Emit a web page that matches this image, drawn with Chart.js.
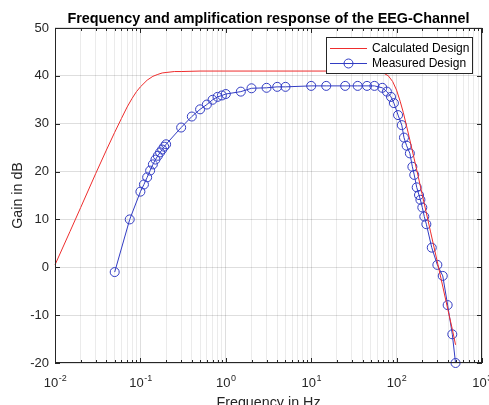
<!DOCTYPE html>
<html><head><meta charset="utf-8">
<script src="https://cdn.jsdelivr.net/npm/chart.js@4"></script>
<style>html,body{margin:0;padding:0;background:#fff;}#wrap{width:489px;height:405px;}</style>
</head><body><div id="wrap"><canvas id="c" width="489" height="405"></canvas></div>
<script>
const chartTitle = 'Frequency and amplification response of the EEG-Channel';
const xAxisTitle = 'Frequency in Hz';
const yAxisTitle = 'Gain in dB';
const calcLabel = 'Calculated Design';
const measLabel = 'Measured Design';

const calcFreq = [0.01,0.015,0.02,0.03,0.04,0.05,0.06,0.07,0.08,0.09,0.1,0.12,0.14,0.16,0.18,0.2,0.25,0.3,0.5,1,10,40,50,60,70,80,90,100,110,120,140,160,180,200,250,300,350,400,450,490];
const calcGain = [0.5,7.5,12.5,19.6,24.5,28.2,31.1,33.5,35.3,36.7,37.7,39.1,39.9,40.3,40.6,40.7,40.9,40.9,41,41,41,41,41,40.9,40.6,40.0,38.8,37.0,34.7,32.3,27.3,22.8,18.8,15.1,7.4,1.1,-4.3,-9.0,-13.0,-16.2];

const measFreq = [0.05,0.075,0.1,0.11,0.12,0.13,0.14,0.15,0.16,0.17,0.18,0.19,0.2,0.3,0.4,0.5,0.6,0.7,0.8,0.9,1,1.5,2,3,4,5,10,15,25,35,45,55,68,77,86,93,104,115,122,131,143,153,161,172,183,190,200,211,223,258,300,347,396,449,490];
const measGain = [-1.0,10.0,15.8,17.3,18.8,20.2,21.5,22.5,23.3,24.0,24.6,25.2,25.7,29.2,31.5,33.0,34.0,35.0,35.6,35.9,36.2,36.7,37.4,37.5,37.7,37.7,37.9,37.9,37.9,37.9,37.9,37.9,37.5,36.7,35.6,34.3,31.8,29.7,27.1,25.4,23.8,21.0,19.3,16.7,15.1,14.1,12.5,10.6,9.0,4.1,0.5,-1.8,-7.9,-14.0,-20.0];

const xTickValues = [0.01,0.1,1,10,100,1000];
const xTickBase = '10';
const xTickExponents = ['-2','-1','0','1','2','3'];
const yTickValues = [-20,-10,0,10,20,30,40,50];
const xMinorMultipliers = [2,3,4,5,6,7,8,9];

const FONT = "'Liberation Sans', Arial, Helvetica, sans-serif";
const AXIS_COLOR = '#262626';
const RED = 'rgb(238,45,45)';
const BLUE = 'rgb(50,60,195)';

function isMajorX(v){ return xTickValues.some(t => Math.abs(t - v) / t < 1e-6); }

const xGridValues = [];
xTickValues.forEach((d, i) => {
  xGridValues.push(d);
  if (i < xTickValues.length - 1) xMinorMultipliers.forEach(m => xGridValues.push(+(d * m).toPrecision(6)));
});

const boxPlugin = {
  id: 'matlabBox',
  afterDatasetsDraw(chart) {
    const {ctx, chartArea: a, scales: {x, y}} = chart;
    ctx.save();
    ctx.strokeStyle = AXIS_COLOR;
    ctx.lineWidth = 1;
    ctx.beginPath();
    x.ticks.forEach(t => {
      const px = Math.round(x.getPixelForValue(t.value)) + 0.5;
      const len = isMajorX(t.value) ? 5 : 3;
      ctx.moveTo(px, a.bottom); ctx.lineTo(px, a.bottom - len);
      ctx.moveTo(px, a.top); ctx.lineTo(px, a.top + len);
    });
    y.ticks.forEach(t => {
      const py = Math.round(y.getPixelForValue(t.value)) + 0.5;
      ctx.moveTo(a.left, py); ctx.lineTo(a.left + 5, py);
      ctx.moveTo(a.right, py); ctx.lineTo(a.right - 5, py);
    });
    ctx.stroke();
    ctx.strokeRect(Math.round(a.left) + 0.5, Math.round(a.top) + 0.5, Math.round(a.right - a.left) - 1, Math.round(a.bottom - a.top) - 1);

    // x tick labels: base "10" with raised exponent
    ctx.fillStyle = AXIS_COLOR;
    ctx.textBaseline = 'alphabetic';
    ctx.textAlign = 'left';
    xTickValues.forEach((v, i) => {
      const px = x.getPixelForValue(v);
      ctx.font = '13px ' + FONT;
      const w1 = ctx.measureText(xTickBase).width;
      ctx.font = '9px ' + FONT;
      const w2 = ctx.measureText(xTickExponents[i]).width;
      const x0 = px - (w1 + w2) / 2;
      ctx.font = '13px ' + FONT;
      ctx.fillText(xTickBase, x0, a.bottom + 24);
      ctx.font = '9px ' + FONT;
      ctx.fillText(xTickExponents[i], x0 + w1 + 0.5, a.bottom + 18);
    });
    ctx.restore();
  },
  afterDraw(chart) {
    const {ctx} = chart;
    const ds = chart.data.datasets;
    const bx = 326.5, by = 37.5, bw = 146, bh = 36;
    ctx.save();
    ctx.fillStyle = '#fff';
    ctx.fillRect(bx, by, bw, bh);
    ctx.strokeStyle = AXIS_COLOR;
    ctx.lineWidth = 1;
    ctx.strokeRect(bx, by, bw, bh);
    ctx.font = '12px ' + FONT;
    ctx.textBaseline = 'middle';
    ctx.textAlign = 'left';
    const rows = [48.5, 63.5];
    ds.forEach((d, i) => {
      const yy = rows[i];
      ctx.strokeStyle = d.borderColor;
      ctx.lineWidth = 1;
      ctx.beginPath(); ctx.moveTo(330, yy); ctx.lineTo(367, yy); ctx.stroke();
      if (d.pointRadius > 0) {
        ctx.beginPath(); ctx.arc(348.5, yy, d.pointRadius, 0, Math.PI * 2); ctx.stroke();
      }
      ctx.fillStyle = '#000';
      ctx.fillText(d.label, 372, yy);
    });
    ctx.restore();
  }
};

new Chart(document.getElementById('c'), {
  type: 'line',
  data: {
    datasets: [
      {
        label: calcLabel,
        data: calcFreq.map((f, i) => ({x: f, y: calcGain[i]})),
        borderColor: RED, borderWidth: 1, pointRadius: 0, tension: 0, clip: false, fill: false
      },
      {
        label: measLabel,
        data: measFreq.map((f, i) => ({x: f, y: measGain[i]})),
        borderColor: BLUE, borderWidth: 1, pointRadius: 4.5, pointStyle: 'circle',
        pointBorderColor: BLUE, pointBackgroundColor: 'rgba(0,0,0,0)', pointBorderWidth: 1,
        tension: 0, clip: false, fill: false
      }
    ]
  },
  options: {
    responsive: false,
    animation: false,
    devicePixelRatio: 1,
    layout: {padding: {left: 0, right: 7, top: 0, bottom: 0}},
    plugins: {
      legend: {display: false},
      tooltip: {enabled: false},
      title: {
        display: true, text: chartTitle, fullSize: false, color: '#000',
        font: {family: FONT, size: 14.4, weight: 'bold', lineHeight: 1.2},
        padding: {top: 9.9, bottom: 0.8}
      }
    },
    scales: {
      x: {
        type: 'logarithmic', position: 'bottom', min: 0.01, max: 1000,
        afterBuildTicks: s => { s.ticks = xGridValues.map(v => ({value: v, major: isMajorX(v)})); },
        afterFit: s => { s.height = 42; },
        ticks: {display: false, autoSkip: false, maxRotation: 0, minRotation: 0},
        grid: {
          drawTicks: false,
          color: c => (c.tick && isMajorX(c.tick.value)) ? 'rgba(0,0,0,0.13)' : 'rgba(0,0,0,0.08)',
          lineWidth: 1
        },
        border: {display: false},
        title: {display: true, text: xAxisTitle, color: AXIS_COLOR, font: {family: FONT, size: 14.3, lineHeight: 1.2}, padding: {top: 0, bottom: -6.2}}
      },
      y: {
        type: 'linear', position: 'left', min: -20, max: 50,
        afterBuildTicks: s => { s.ticks = yTickValues.map(v => ({value: v})); },
        afterFit: s => { s.width = 55; },
        ticks: {padding: 6, color: AXIS_COLOR, font: {family: FONT, size: 13}},
        grid: {drawTicks: false, color: 'rgba(0,0,0,0.13)', lineWidth: 1},
        border: {display: false},
        title: {display: true, text: yAxisTitle, color: AXIS_COLOR, font: {family: FONT, size: 14.3, lineHeight: 1.2}, padding: {top: 9.6, bottom: 0}}
      }
    }
  },
  plugins: [boxPlugin]
});
</script></body></html>
